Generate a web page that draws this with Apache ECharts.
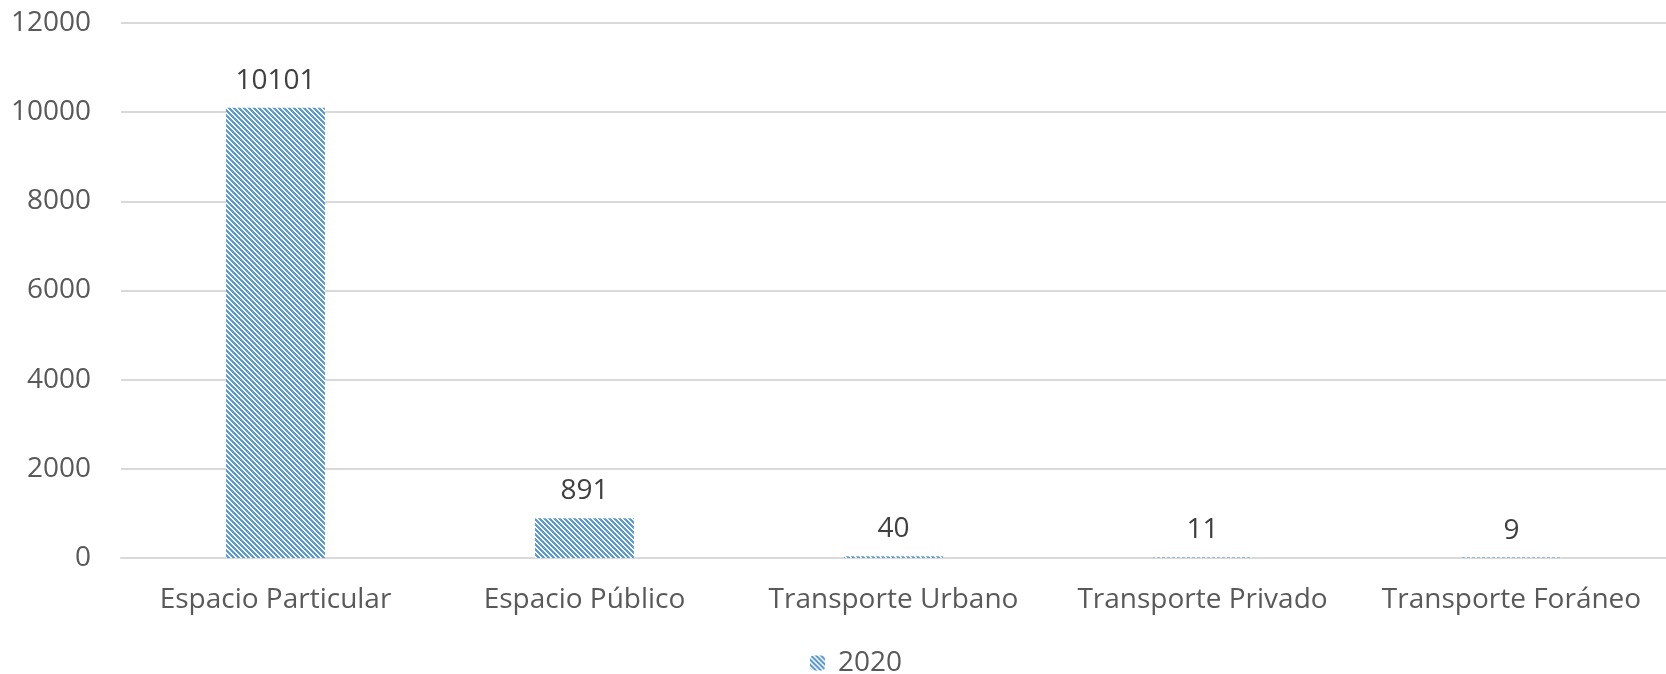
<!DOCTYPE html>
<html>
<head>
<meta charset="utf-8">
<script src="https://cdn.jsdelivr.net/npm/echarts@6/dist/echarts.min.js"></script>
<style>
    html, body { margin: 0; padding: 0; background: #fff; }
    #chart { width: 1666px; height: 674px; }
</style>
</head>
<body>
<div id="chart"></div>
<script>
    // datos
    var categories = ['Espacio Particular', 'Espacio Público', 'Transporte Urbano', 'Transporte Privado', 'Transporte Foráneo'];
    var values2020 = [10101, 891, 40, 11, 9];
    var seriesName = '2020';

    // trama diagonal tipo Excel
    function makeStripes() {
        var c = document.createElement('canvas');
        c.width = 10;
        c.height = 10;
        var ctx = c.getContext('2d');
        ctx.fillStyle = '#ffffff';
        ctx.fillRect(0, 0, 10, 10);
        ctx.fillStyle = '#5b9bd5';
        for (var y = 0; y < 10; y++) {
            for (var x = 0; x < 10; x++) {
                if (((x - y) % 5 + 5) % 5 < 3) {
                    ctx.fillRect(x, y, 1, 1);
                }
            }
        }
        return c;
    }

    var font = '"Open Sans", sans-serif';
    var chart = echarts.init(document.getElementById('chart'));
    var option = {
        animation: false,
        grid: { left: 121, right: 0, top: 23, bottom: 116 },
        legend: {
            left: 805,
            top: 644,
            itemWidth: 15,
            itemHeight: 15,
            textStyle: { fontFamily: font, fontSize: 28, color: '#595959', padding: [0, 0, 0, 8] },
            data: [seriesName]
        },
        xAxis: {
            type: 'category',
            data: categories,
            axisLine: { lineStyle: { color: '#d9d9d9', width: 2 } },
            axisTick: { show: false },
            axisLabel: { fontFamily: font, fontSize: 28, color: '#595959', margin: 28, interval: 0 }
        },
        yAxis: {
            type: 'value',
            min: 0,
            max: 12000,
            interval: 2000,
            axisLine: { show: false },
            axisTick: { show: false },
            splitLine: { lineStyle: { color: '#d9d9d9', width: 2 } },
            axisLabel: {
                fontFamily: font, fontSize: 28, color: '#595959', margin: 30,
                formatter: function (v) { return String(v); }
            }
        },
        series: [{
            name: seriesName,
            type: 'bar',
            data: values2020,
            barWidth: '32%',
            itemStyle: { color: { image: makeStripes(), repeat: 'repeat' } },
            label: {
                show: true,
                position: 'top',
                distance: 13,
                fontFamily: font,
                fontSize: 28,
                color: '#404040'
            }
        }]
    };
    chart.setOption(option);
</script>
</body>
</html>
